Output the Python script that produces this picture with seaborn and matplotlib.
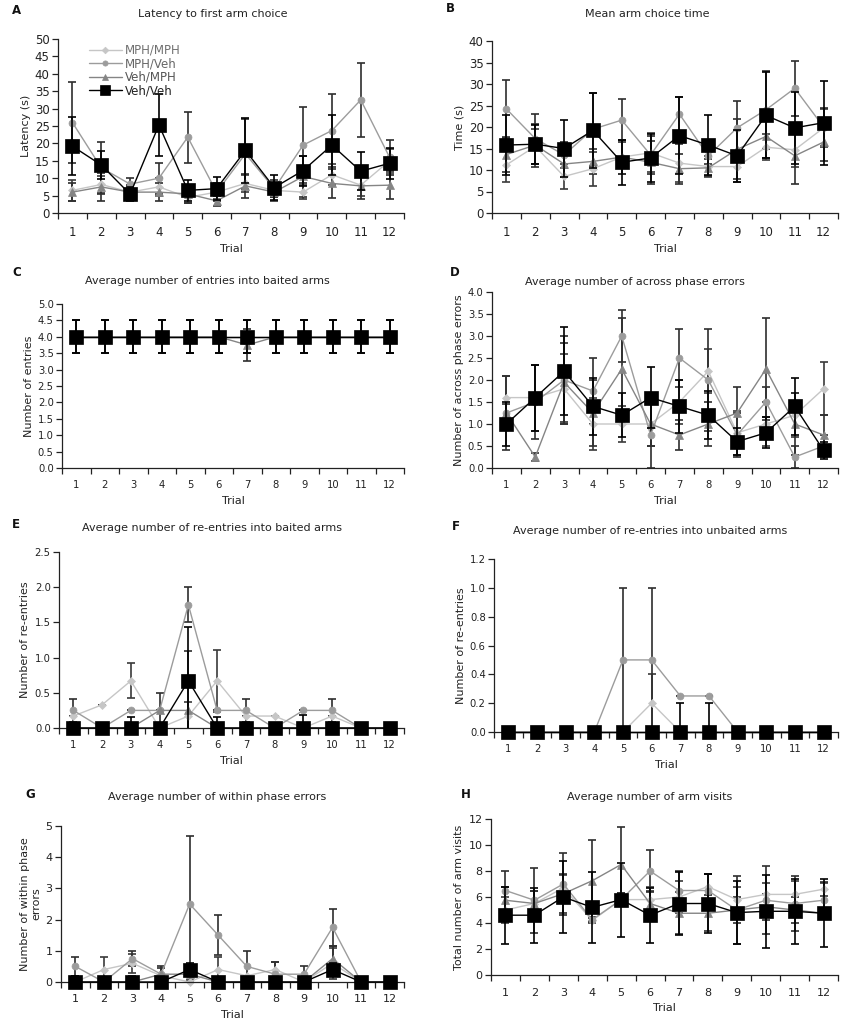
"""
Radial arm maze performance across 12 trials, four treatment groups.
Eight panels (A-H), mean +/- error per group and trial.
"""

import matplotlib
matplotlib.use("Agg")
import matplotlib.pyplot as plt
import numpy as np
import seaborn as sns

TRIALS = [1, 2, 3, 4, 5, 6, 7, 8, 9, 10, 11, 12]
GROUPS = ["MPH/MPH", "MPH/Veh", "Veh/MPH", "Veh/Veh"]

# A - latency to first arm choice (s)
A_MM = [6.5, 8.2, 6.0, 7.5, 4.5, 6.0, 8.5, 6.5, 6.0, 11.0, 8.0, 15.0]
A_MV = [26.0, 13.0, 8.3, 10.0, 21.8, 6.0, 17.0, 7.0, 19.5, 23.7, 32.5, 16.0]
A_VM = [6.0, 7.5, 6.0, 6.0, 5.5, 3.5, 7.8, 6.0, 10.5, 8.5, 7.8, 8.0]
A_VV = [19.2, 13.8, 5.4, 25.3, 6.5, 7.0, 18.0, 7.3, 12.2, 19.5, 12.0, 14.3]
A_MM_E = [3.0, 2.5, 2.0, 2.5, 1.5, 2.0, 2.5, 2.0, 2.0, 3.0, 3.0, 3.5]
A_MV_E = [11.7, 7.4, 1.8, 4.5, 7.3, 2.5, 10.0, 2.5, 10.9, 10.6, 10.7, 5.0]
A_VM_E = [2.5, 4.0, 2.0, 2.5, 2.5, 1.5, 3.5, 2.5, 6.0, 4.2, 3.8, 4.0]
A_VV_E = [8.4, 3.9, 2.0, 9.0, 3.0, 3.3, 9.3, 3.5, 4.3, 8.7, 5.5, 4.5]

# B - mean arm choice time (s)
B_MM = [11.2, 15.5, 8.5, 10.3, 13.0, 14.0, 11.6, 10.8, 10.8, 15.3, 14.7, 19.8]
B_MV = [24.2, 17.3, 13.5, 19.5, 21.6, 13.5, 23.0, 13.3, 19.8, 24.0, 29.0, 20.0]
B_VM = [13.6, 15.8, 11.4, 12.0, 13.0, 11.8, 10.3, 10.5, 14.8, 17.8, 13.3, 16.5]
B_VV = [15.8, 16.0, 15.0, 19.2, 11.8, 12.8, 18.0, 15.8, 13.3, 22.7, 19.8, 21.0]
B_MM_E = [4.0, 4.0, 3.0, 4.0, 4.0, 4.5, 4.5, 2.5, 3.5, 3.0, 4.0, 4.5]
B_MV_E = [6.8, 5.8, 3.0, 8.5, 5.0, 4.5, 4.0, 2.0, 6.2, 9.0, 6.4, 4.5]
B_VM_E = [4.0, 5.0, 3.0, 3.0, 4.0, 5.0, 3.5, 2.0, 7.0, 5.0, 6.5, 4.5]
B_VV_E = [7.0, 4.5, 6.7, 8.7, 5.2, 5.5, 9.0, 7.0, 6.0, 10.0, 8.4, 9.8]

# C - entries into baited arms
C_MM = [4.0, 4.0, 4.0, 4.0, 4.0, 4.0, 4.0, 4.0, 4.0, 4.0, 4.0, 4.0]
C_MV = [4.0, 4.0, 4.0, 4.0, 4.0, 4.0, 4.0, 4.0, 4.0, 4.0, 4.0, 4.0]
C_VM = [4.0, 4.0, 4.0, 4.0, 4.0, 4.0, 3.75, 4.0, 4.0, 4.0, 4.0, 4.0]
C_VV = [4.0, 4.0, 4.0, 4.0, 4.0, 4.0, 4.0, 4.0, 4.0, 4.0, 4.0, 4.0]
C_MM_E = [0.5, 0.5, 0.5, 0.5, 0.5, 0.5, 0.5, 0.5, 0.5, 0.5, 0.5, 0.5]
C_MV_E = [0.5, 0.5, 0.5, 0.5, 0.5, 0.5, 0.5, 0.5, 0.5, 0.5, 0.5, 0.5]
C_VM_E = [0.5, 0.5, 0.5, 0.5, 0.5, 0.5, 0.5, 0.5, 0.5, 0.5, 0.5, 0.5]
C_VV_E = [0.5, 0.5, 0.5, 0.5, 0.5, 0.5, 0.5, 0.5, 0.5, 0.5, 0.5, 0.5]

# D - across phase errors
D_MM = [1.6, 1.6, 1.8, 1.0, 1.0, 1.0, 1.5, 2.2, 0.8, 1.0, 1.2, 1.8]
D_MV = [1.25, 1.5, 2.0, 1.75, 3.0, 0.75, 2.5, 2.0, 0.75, 1.5, 0.25, 0.5]
D_VM = [1.25, 0.25, 1.95, 1.25, 2.25, 1.0, 0.75, 1.0, 1.25, 2.25, 1.0, 0.75]
D_VV = [1.0, 1.6, 2.2, 1.4, 1.2, 1.6, 1.4, 1.2, 0.6, 0.8, 1.4, 0.4]
D_MM_E = [0.5, 0.75, 0.8, 0.6, 0.4, 0.5, 0.5, 0.5, 0.5, 0.5, 0.5, 0.6]
D_MV_E = [0.2, 0.85, 1.0, 0.75, 0.6, 0.75, 0.65, 1.15, 0.5, 0.35, 0.25, 0.25]
D_VM_E = [0.85, 0.1, 0.9, 0.75, 1.15, 0.5, 0.35, 0.5, 0.6, 1.15, 0.7, 0.45]
D_VV_E = [0.5, 0.75, 1.0, 0.65, 0.5, 0.7, 0.6, 0.55, 0.3, 0.35, 0.65, 0.2]

# E - re-entries into baited arms
E_MM = [0.17, 0.33, 0.67, 0.0, 0.17, 0.67, 0.17, 0.17, 0.0, 0.17, 0.0, 0.0]
E_MV = [0.25, 0.0, 0.25, 0.25, 1.75, 0.25, 0.25, 0.0, 0.25, 0.25, 0.0, 0.0]
E_VM = [0.0, 0.0, 0.0, 0.25, 0.25, 0.0, 0.0, 0.0, 0.0, 0.0, 0.0, 0.0]
E_VV = [0.0, 0.0, 0.0, 0.0, 0.67, 0.0, 0.0, 0.0, 0.0, 0.0, 0.0, 0.0]
E_MM_E = [0.0, 0.0, 0.25, 0.0, 0.2, 0.44, 0.0, 0.0, 0.0, 0.0, 0.0, 0.0]
E_MV_E = [0.16, 0.0, 0.0, 0.0, 0.25, 0.0, 0.16, 0.0, 0.0, 0.16, 0.0, 0.0]
E_VM_E = [0.0, 0.0, 0.0, 0.25, 0.85, 0.0, 0.0, 0.0, 0.0, 0.0, 0.0, 0.0]
E_VV_E = [0.0, 0.0, 0.15, 0.0, 0.76, 0.15, 0.0, 0.0, 0.18, 0.0, 0.0, 0.0]

# F - re-entries into unbaited arms
F_MM = [0.0, 0.0, 0.0, 0.0, 0.0, 0.2, 0.0, 0.0, 0.0, 0.0, 0.0, 0.0]
F_MV = [0.0, 0.0, 0.0, 0.0, 0.5, 0.5, 0.25, 0.25, 0.0, 0.0, 0.0, 0.0]
F_VM = [0.0, 0.0, 0.0, 0.0, 0.0, 0.0, 0.0, 0.0, 0.0, 0.0, 0.0, 0.0]
F_VV = [0.0, 0.0, 0.0, 0.0, 0.0, 0.0, 0.0, 0.0, 0.0, 0.0, 0.0, 0.0]
F_MM_E = [0.0, 0.0, 0.0, 0.0, 0.0, 0.2, 0.0, 0.0, 0.0, 0.0, 0.0, 0.0]
F_MV_E = [0.0, 0.0, 0.0, 0.0, 0.5, 0.5, 0.0, 0.0, 0.0, 0.0, 0.0, 0.0]
F_VM_E = [0.0, 0.0, 0.0, 0.0, 0.0, 0.0, 0.0, 0.0, 0.0, 0.0, 0.0, 0.0]
F_VV_E = [0.0, 0.0, 0.0, 0.0, 0.0, 0.0, 0.2, 0.2, 0.0, 0.0, 0.0, 0.0]

# G - within phase errors
G_MM = [0.0, 0.4, 0.6, 0.2, 0.0, 0.4, 0.2, 0.4, 0.0, 0.6, 0.0, 0.0]
G_MV = [0.5, 0.0, 0.75, 0.25, 2.5, 1.5, 0.5, 0.25, 0.25, 1.75, 0.0, 0.0]
G_VM = [0.0, 0.0, 0.0, 0.25, 0.25, 0.0, 0.0, 0.0, 0.0, 0.75, 0.0, 0.0]
G_VV = [0.0, 0.0, 0.0, 0.0, 0.4, 0.0, 0.0, 0.0, 0.0, 0.4, 0.0, 0.0]
G_MM_E = [0.0, 0.4, 0.3, 0.0, 0.0, 0.4, 0.0, 0.25, 0.0, 0.5, 0.0, 0.0]
G_MV_E = [0.3, 0.0, 0.25, 0.25, 2.17, 0.65, 0.5, 0.4, 0.25, 0.6, 0.0, 0.0]
G_VM_E = [0.0, 0.0, 0.0, 0.2, 0.2, 0.0, 0.0, 0.0, 0.0, 0.4, 0.0, 0.0]
G_VV_E = [0.2, 0.0, 0.2, 0.0, 0.2, 0.0, 0.0, 0.0, 0.0, 0.2, 0.0, 0.0]

# H - total arm visits
H_MM = [5.0, 5.5, 6.7, 4.2, 5.8, 5.8, 6.0, 6.8, 5.8, 6.2, 6.2, 6.6]
H_MV = [6.5, 5.75, 7.0, 4.25, 5.8, 8.0, 6.5, 6.5, 5.0, 5.75, 5.5, 5.75]
H_VM = [5.75, 5.5, 6.25, 7.25, 8.5, 5.5, 4.75, 4.75, 5.0, 5.25, 5.0, 4.75]
H_VV = [4.6, 4.6, 6.0, 5.2, 5.8, 4.6, 5.5, 5.5, 4.8, 4.9, 4.9, 4.75]
H_MM_E = [1.0, 1.0, 1.0, 0.2, 0.5, 1.0, 1.2, 1.0, 1.0, 0.9, 1.0, 0.5]
H_MV_E = [1.5, 2.5, 2.4, 0.2, 0.5, 1.6, 1.5, 1.3, 2.65, 2.6, 2.15, 1.4]
H_VM_E = [1.0, 1.0, 1.5, 3.1, 2.9, 1.0, 1.6, 1.4, 1.0, 1.0, 1.0, 0.4]
H_VV_E = [2.2, 2.1, 2.8, 2.7, 2.85, 2.1, 2.4, 2.3, 2.4, 2.8, 2.5, 2.6]

STYLE = {
    "MPH/MPH": dict(color="#c6c6c6", marker="D", ms=4.5, lw=1.0, ecolor="#3a3a3a"),
    "MPH/Veh": dict(color="#9c9c9c", marker="o", ms=5.0, lw=1.0, ecolor="#2e2e2e"),
    "Veh/MPH": dict(color="#858585", marker="^", ms=5.5, lw=1.0, ecolor="#2e2e2e"),
    "Veh/Veh": dict(color="#000000", marker="s", ms=9.5, lw=1.0, ecolor="#000000"),
}

W, H = 843, 1032
INK = "#222222"

sns.set_theme(style="white")
plt.rcParams["font.family"] = ["DejaVu Sans"]
plt.rcParams["axes.linewidth"] = 0.9


def px_axes(fig, left, right, top, bottom):
    return fig.add_axes([left / W, 1 - bottom / H, (right - left) / W, (bottom - top) / H])


def draw_panel(fig, box, series, title, title_xy, letter, letter_xy,
               ylabel, ylim, yticks, yfmt, fs):
    ax = px_axes(fig, *box)
    for g, (means, errs) in zip(GROUPS, series):
        st = STYLE[g]
        sns.lineplot(x=TRIALS, y=means, ax=ax, color=st["color"], lw=st["lw"],
                     marker=st["marker"], markersize=st["ms"],
                     markeredgecolor=st["color"], markeredgewidth=0.5,
                     label=g, legend=False, clip_on=False,
                     zorder=4 if g == "Veh/Veh" else 2)
        ax.errorbar(TRIALS, means, yerr=np.asarray(errs), fmt="none", ecolor=st["ecolor"],
                    elinewidth=1.2, capsize=3.2, capthick=1.2,
                    zorder=3 if g == "Veh/Veh" else 1.5)
    ax.set_xlim(0.5, 12.5)
    ax.set_ylim(*ylim)
    ax.set_yticks(yticks)
    ax.set_yticklabels([yfmt.format(v) for v in yticks])
    ax.set_xticks(TRIALS)
    ax.set_xticks(np.arange(0.5, 13.0, 1.0), minor=True)
    ax.tick_params(axis="x", which="major", length=0, pad=9, labelsize=fs, colors=INK)
    ax.tick_params(axis="x", which="minor", length=4, width=0.9, direction="out",
                   bottom=True, color=INK)
    ax.tick_params(axis="y", length=4, width=0.9, direction="out", left=True,
                   labelsize=fs, colors=INK, pad=2)
    for s in ("top", "right"):
        ax.spines[s].set_visible(False)
    for s in ("left", "bottom"):
        ax.spines[s].set_color(INK)
    ax.set_xlabel("Trial", fontsize=8, color=INK, labelpad=4)
    ax.set_ylabel(ylabel, fontsize=8, color=INK, labelpad=3)
    fig.text(title_xy[0] / W, 1 - title_xy[1] / H, title, ha="center", va="center",
             fontsize=8, color=INK)
    fig.text(letter_xy[0] / W, 1 - letter_xy[1] / H, letter, ha="left", va="center",
             fontsize=8.5, fontweight="bold", color="#111111")
    return ax


fig = plt.figure(figsize=(W / 100, H / 100), dpi=100)
fig.patch.set_facecolor("white")

ax_a = draw_panel(fig, (58, 404, 39, 213),
                  [(A_MM, A_MM_E), (A_MV, A_MV_E), (A_VM, A_VM_E), (A_VV, A_VV_E)],
                  "Latency to first arm choice", (213, 14), "A", (12, 10),
                  "Latency (s)", (0, 50), list(range(0, 51, 5)), "{:.0f}", 8.5)
handles, labels = ax_a.get_legend_handles_labels()
leg = ax_a.legend(handles, labels, loc="upper left", bbox_to_anchor=(0.075, 1.0),
                  frameon=False, fontsize=8.5, handlelength=2.8, handletextpad=0.25,
                  labelspacing=0.05, borderaxespad=0, markerscale=0.75)
for txt, c in zip(leg.get_texts(), ["#707070", "#666666", "#555555", "#222222"]):
    txt.set_color(c)

draw_panel(fig, (492, 838, 41, 213),
           [(B_MM, B_MM_E), (B_MV, B_MV_E), (B_VM, B_VM_E), (B_VV, B_VV_E)],
           "Mean arm choice time", (647, 14), "B", (446, 9),
           "Time (s)", (0, 40), list(range(0, 41, 5)), "{:.0f}", 8.5)

draw_panel(fig, (62, 404, 304, 468),
           [(C_MM, C_MM_E), (C_MV, C_MV_E), (C_VM, C_VM_E), (C_VV, C_VV_E)],
           "Average number of entries into baited arms", (207, 281), "C", (12, 273),
           "Number of entries", (0, 5), list(np.arange(0, 5.01, 0.5)), "{:.1f}", 7.2)

draw_panel(fig, (492, 838, 292, 468),
           [(D_MM, D_MM_E), (D_MV, D_MV_E), (D_VM, D_VM_E), (D_VV, D_VV_E)],
           "Average number of across phase errors", (635, 282), "D", (450, 272),
           "Number of across phase errors", (0, 4), list(np.arange(0, 4.01, 0.5)),
           "{:.1f}", 7.2)

draw_panel(fig, (59, 404, 552, 728),
           [(E_MM, E_MM_E), (E_MV, E_MV_E), (E_VM, E_VM_E), (E_VV, E_VV_E)],
           "Average number of re-entries into baited arms", (212, 528), "E", (12, 525),
           "Number of re-entries", (0, 2.5), list(np.arange(0, 2.51, 0.5)), "{:.1f}", 7.2)

draw_panel(fig, (494, 838, 559, 732),
           [(F_MM, F_MM_E), (F_MV, F_MV_E), (F_VM, F_VM_E), (F_VV, F_VV_E)],
           "Average number of re-entries into unbaited arms", (650, 531), "F", (452, 527),
           "Number of re-entries", (0, 1.2), list(np.arange(0, 1.21, 0.2)), "{:.1f}", 7.2)

draw_panel(fig, (61, 404, 826, 982),
           [(G_MM, G_MM_E), (G_MV, G_MV_E), (G_VM, G_VM_E), (G_VV, G_VV_E)],
           "Average number of within phase errors", (217, 797), "G", (25, 795),
           "Number of within phase\nerrors", (0, 5), list(range(0, 6)), "{:.0f}", 8)

draw_panel(fig, (491, 838, 819, 975),
           [(H_MM, H_MM_E), (H_MV, H_MV_E), (H_VM, H_VM_E), (H_VV, H_VV_E)],
           "Average number of arm visits", (650, 797), "H", (461, 795),
           "Total number of arm visits", (0, 12), list(range(0, 13, 2)), "{:.0f}", 8)

fig.savefig("out.png", dpi=100, facecolor="white")
